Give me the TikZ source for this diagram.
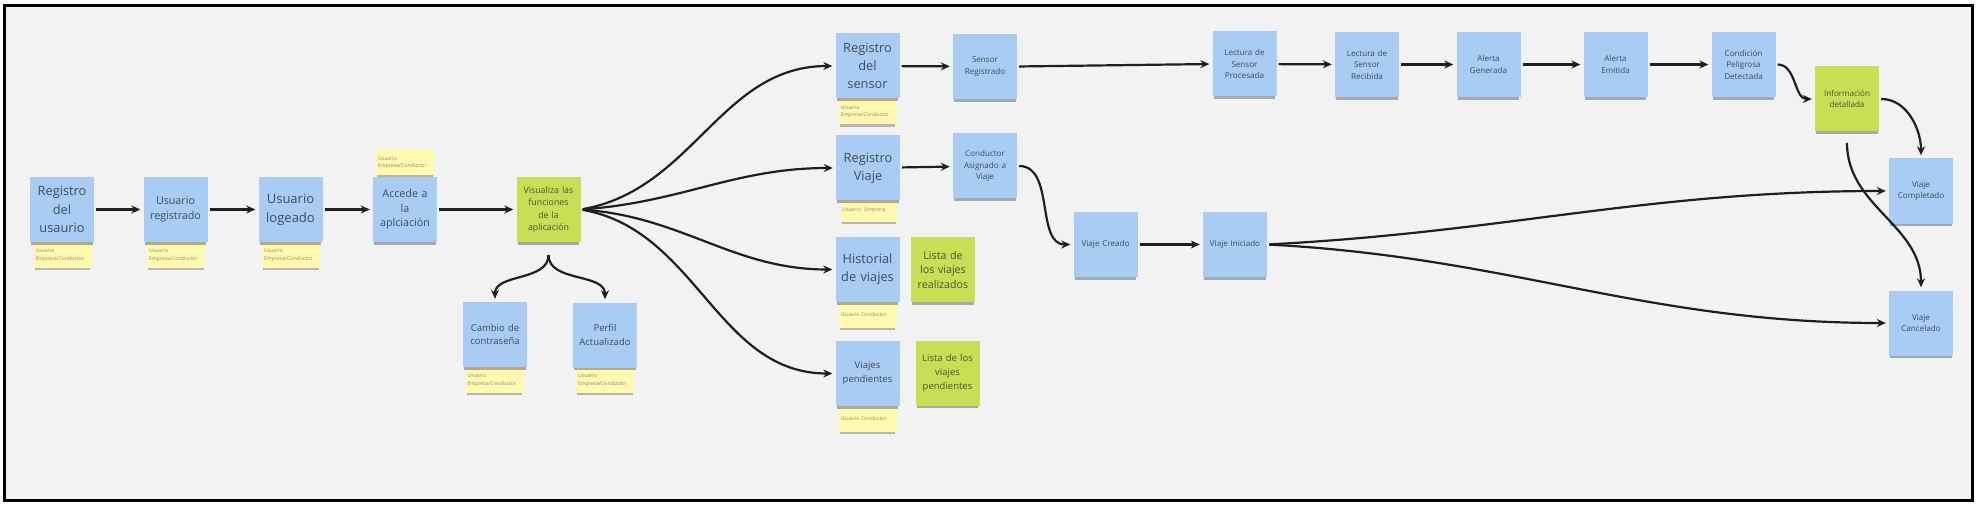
\documentclass[tikz,border=0pt]{standalone}
\usepackage{fontspec}
\setmainfont{Open Sans}
\usetikzlibrary{arrows.meta,shadows}

\definecolor{panelbg}{HTML}{F2F2F2}
\definecolor{stickyblue}{HTML}{A9CCF4}
\definecolor{stickygreen}{HTML}{C8DE55}
\definecolor{stickyyellow}{HTML}{FFF8B0}
\definecolor{bluetext}{HTML}{3E4C5C}
\definecolor{greentext}{HTML}{4A5538}
\definecolor{tagtext}{HTML}{968A68}

\tikzset{
  sticky/.style={rectangle, minimum width=64pt, minimum height=65pt, inner sep=1pt,
    text width=62pt, align=center,
    drop shadow={shadow xshift=0pt, shadow yshift=-4pt, shadow scale=0.96,
      opacity=0.3, fill=black}},
  bluenote/.style={sticky, fill=stickyblue, text=bluetext},
  greennote/.style={sticky, fill=stickygreen, text=greentext},
  tagnote/.style={rectangle, minimum width=58pt, minimum height=26pt, inner sep=1pt,
    text width=54pt, align=left, fill=stickyyellow, text=tagtext,
    font=\fontsize{5.2}{7.5}\selectfont,
    drop shadow={shadow xshift=0pt, shadow yshift=-3pt, shadow scale=0.95,
      opacity=0.25, fill=black}},
  txtA/.style={font=\fontsize{12.8}{18.3}\selectfont},
  txtB/.style={font=\fontsize{10.7}{14.5}\selectfont},
  txtC/.style={font=\fontsize{9.5}{13.8}\selectfont},
  txtD/.style={font=\fontsize{8.8}{12.5}\selectfont},
  txtE/.style={font=\fontsize{8.1}{11.5}\selectfont},
  flow/.style={-{Stealth[length=9pt,width=8pt]}, line width=2.2pt, draw=black!88,
    shorten <=2pt, shorten >=3pt},
}

\begin{document}
\begin{tikzpicture}[x=1pt,y=1pt]
  \useasboundingbox (0,0) rectangle (1977,-505);
  \fill[white] (0,0) rectangle (1977,-505);
  \draw[line width=2.5pt, fill=panelbg] (4.5,-5.5) rectangle (1972.5,-500.5);

  \node[tagnote] (tagregusuario) at (62.5,-255) {Usuario\\Empresa/Conductor};
  \node[tagnote] (tagusrreg) at (176,-255) {Usuario\\Empresa/Conductor};
  \node[tagnote] (tagusrlog) at (291,-255) {Usuario\\Empresa/Conductor};
  \node[tagnote] (tagaccede) at (405,-162.5) {Usuario\\Empresa/Conductor};
  \node[tagnote] (tagcambio) at (494.5,-380) {Usuario\\Empresa/Conductor};
  \node[tagnote] (tagperfil) at (605,-380) {Usuario\\Empresa/Conductor};
  \node[tagnote] (tagregsensor) at (867.5,-111.5) {Usuario\\Empresa/Conductor};
  \node[tagnote, minimum height=24pt, minimum width=55pt] (tagregviaje) at (869,-210) {Usuario~ Empresa};
  \node[tagnote] (taghistorial) at (867.5,-315) {Usuario Conductor};
  \node[tagnote] (tagpendientes) at (867.5,-418.5) {Usuario Conductor};

  \node[bluenote, txtA] (regusuario) at (62,-209.5) {Registro\\del\\usaurio};
  \node[bluenote, txtB] (usrreg) at (175.5,-209.5) {Usuario\\registrado};
  \node[bluenote, font=\fontsize{13}{19}\selectfont] (usrlog) at (290.5,-209.5) {Usuario\\logeado};
  \node[bluenote, txtB] (accede) at (405,-209.5) {Accede a\\la\\aplciación};
  \node[greennote, txtD] (visualiza) at (548.5,-209.5) {Visualiza las\\funciones\\de la\\aplicación};
  \node[bluenote, txtC] (cambio) at (495,-334.5) {Cambio de\\contraseña};
  \node[bluenote, txtC] (perfil) at (605,-335) {Perfil\\Actualizado};

  \node[bluenote, txtA] (regsensor) at (867.5,-66) {Registro\\del\\sensor};
  \node[bluenote, txtE] (sensorreg) at (985,-66.5) {Sensor\\Registrado};
  \node[bluenote, txtA] (regviaje) at (868,-168) {Registro\\Viaje};
  \node[bluenote, txtE] (condasig) at (985,-166) {Conductor\\Asignado a\\Viaje};
  \node[bluenote, txtA] (historial) at (867.5,-269.5) {Historial\\de viajes};
  \node[greennote, txtB] (listareal) at (943,-269.5) {Lista de\\los viajes\\realizados};
  \node[bluenote, txtC] (pendientes) at (867.5,-373.5) {Viajes\\pendientes};
  \node[greennote, txtC] (listapend) at (947.5,-373) {Lista de los\\viajes\\pendientes};

  \node[bluenote, txtE] (viajecreado) at (1105.5,-244.5) {Viaje Creado};
  \node[bluenote, txtE] (viajeiniciado) at (1235,-244.5) {Viaje Iniciado};

  \node[bluenote, txtE] (lectproc) at (1244.5,-64) {Lectura de\\Sensor\\Procesada};
  \node[bluenote, txtE] (lectrec) at (1367,-64.5) {Lectura de\\Sensor\\Recibida};
  \node[bluenote, txtE] (alertagen) at (1488.5,-64.5) {Alerta\\Generada};
  \node[bluenote, txtE] (alertaemit) at (1615.5,-64.5) {Alerta\\Emitida};
  \node[bluenote, txtE] (condicion) at (1743.5,-64.5) {Condición\\Peligrosa\\Detectada};
  \node[greennote, txtE] (info) at (1847,-99) {Información\\detallada};
  \node[bluenote, txtE] (completado) at (1921,-191) {Viaje\\Completado};
  \node[bluenote, txtE] (cancelado) at (1921,-323) {Viaje\\Cancelado};

  \coordinate (visfork) at (548.5,-253);
  \coordinate (infodrop) at (1847,-141);

  \draw[flow] (regusuario) -- (usrreg);
  \draw[flow] (usrreg) -- (usrlog);
  \draw[flow] (usrlog) -- (accede);
  \draw[flow] (accede) -- (visualiza);
  \draw[flow] (visfork) to[out=-90, in=90] (cambio);
  \draw[flow] (visfork) to[out=-90, in=90] (perfil);
  \draw[flow] (visualiza.east) to[out=10, in=180] (regsensor.west);
  \draw[flow] (visualiza.east) to[out=4, in=180] (regviaje.west);
  \draw[flow] (visualiza.east) to[out=-4, in=180] (historial.west);
  \draw[flow] (visualiza.east) to[out=-10, in=180] (pendientes.west);
  \draw[flow] (regsensor) -- (sensorreg);
  \draw[flow] (sensorreg.east) -- (lectproc.west);
  \draw[flow] (lectproc) -- (lectrec);
  \draw[flow] (lectrec) -- (alertagen);
  \draw[flow] (alertagen) -- (alertaemit);
  \draw[flow] (alertaemit) -- (condicion);
  \draw[flow] (condicion.east) to[out=0, in=180] (info.west);
  \draw[flow] (info.east) to[out=0, in=90] (completado.north);
  \draw[flow] (infodrop) to[out=-90, in=90] (cancelado.north);
  \draw[flow] (regviaje) -- (condasig);
  \draw[flow] (condasig.east) to[out=0, in=180] (viajecreado.west);
  \draw[flow] (viajecreado) -- (viajeiniciado);
  \draw[flow] (viajeiniciado.east) to[out=3, in=180] (completado.west);
  \draw[flow] (viajeiniciado.east) to[out=-3, in=180] (cancelado.west);
\end{tikzpicture}
\end{document}
